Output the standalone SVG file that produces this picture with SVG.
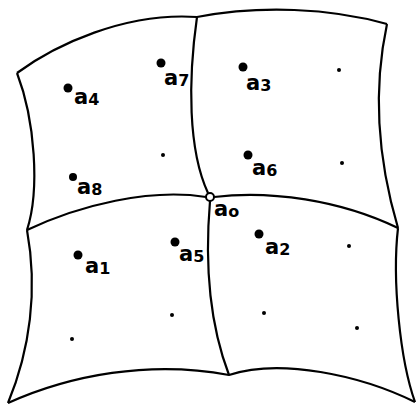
<svg xmlns="http://www.w3.org/2000/svg" width="417" height="405" viewBox="0 0 417 405">
<style>
.e{fill:none;stroke:#000;stroke-width:2.2;stroke-linejoin:round}
.big{fill:#000}
.sm{fill:#000}
.lb{font-family:"DejaVu Sans",sans-serif;font-size:21px;font-weight:bold;fill:#000}
.sub{font-size:16px}
</style>
<rect width="417" height="405" fill="#fff"/>
<g id="connectors">
<path class="e" d="M17,73 C55,45 125,12 197,17"/>
<path class="e" d="M197,17 C260,5 330,8 387,24"/>
<path class="e" d="M387,24 C375,80 375,150 398,228"/>
<path class="e" d="M398,228 C392,280 400,360 415,402"/>
<path class="e" d="M8,403 C70,375 150,360 229,375 C280,358 360,375 415,402"/>
<path class="e" d="M17,73 C35,120 40,190 27,230"/>
<path class="e" d="M27,230 C38,290 30,350 8,403"/>
<path class="e" d="M27,230 C80,205 150,188 206,197"/>
<path class="e" d="M214,197 C270,190 340,200 398,228"/>
<path class="e" d="M197,17 C188,80 188,150 208,193"/>
<path class="e" d="M210,201 C205,260 208,320 229,375"/>
</g>
<g id="a0"><circle cx="210" cy="197" r="4" fill="#fff" stroke="#000" stroke-width="2"/><text class="lb" x="214" y="216">a<tspan class="sub" dy="1">o</tspan></text></g>
<g id="a1"><circle class="big" cx="78" cy="255" r="4.5"/><text class="lb" x="85" y="273">a<tspan class="sub" dy="1">1</tspan></text></g>
<g id="a2"><circle class="big" cx="259" cy="234" r="4.5"/><text class="lb" x="265" y="254">a<tspan class="sub" dy="1">2</tspan></text></g>
<g id="a3"><circle class="big" cx="243" cy="67" r="4.5"/><text class="lb" x="246" y="90">a<tspan class="sub" dy="1">3</tspan></text></g>
<g id="a4"><circle class="big" cx="68" cy="88" r="4.5"/><text class="lb" x="74" y="104">a<tspan class="sub" dy="1">4</tspan></text></g>
<g id="a5"><circle class="big" cx="175" cy="242" r="4.5"/><text class="lb" x="179" y="261">a<tspan class="sub" dy="1">5</tspan></text></g>
<g id="a6"><circle class="big" cx="248" cy="155" r="4.5"/><text class="lb" x="252" y="175">a<tspan class="sub" dy="1">6</tspan></text></g>
<g id="a7"><circle class="big" cx="161" cy="63" r="4.5"/><text class="lb" x="164" y="85">a<tspan class="sub" dy="1">7</tspan></text></g>
<g id="a8"><circle class="big" cx="73" cy="177" r="4"/><text class="lb" x="77" y="194">a<tspan class="sub" dy="1">8</tspan></text></g>
<g id="dots">
<circle class="sm" cx="339" cy="70" r="2"/>
<circle class="sm" cx="163" cy="155" r="2"/>
<circle class="sm" cx="342" cy="163" r="2"/>
<circle class="sm" cx="349" cy="246" r="2"/>
<circle class="sm" cx="172" cy="315" r="2"/>
<circle class="sm" cx="264" cy="313" r="2"/>
<circle class="sm" cx="72" cy="339" r="2"/>
<circle class="sm" cx="357" cy="328" r="2"/>
</g>
</svg>
